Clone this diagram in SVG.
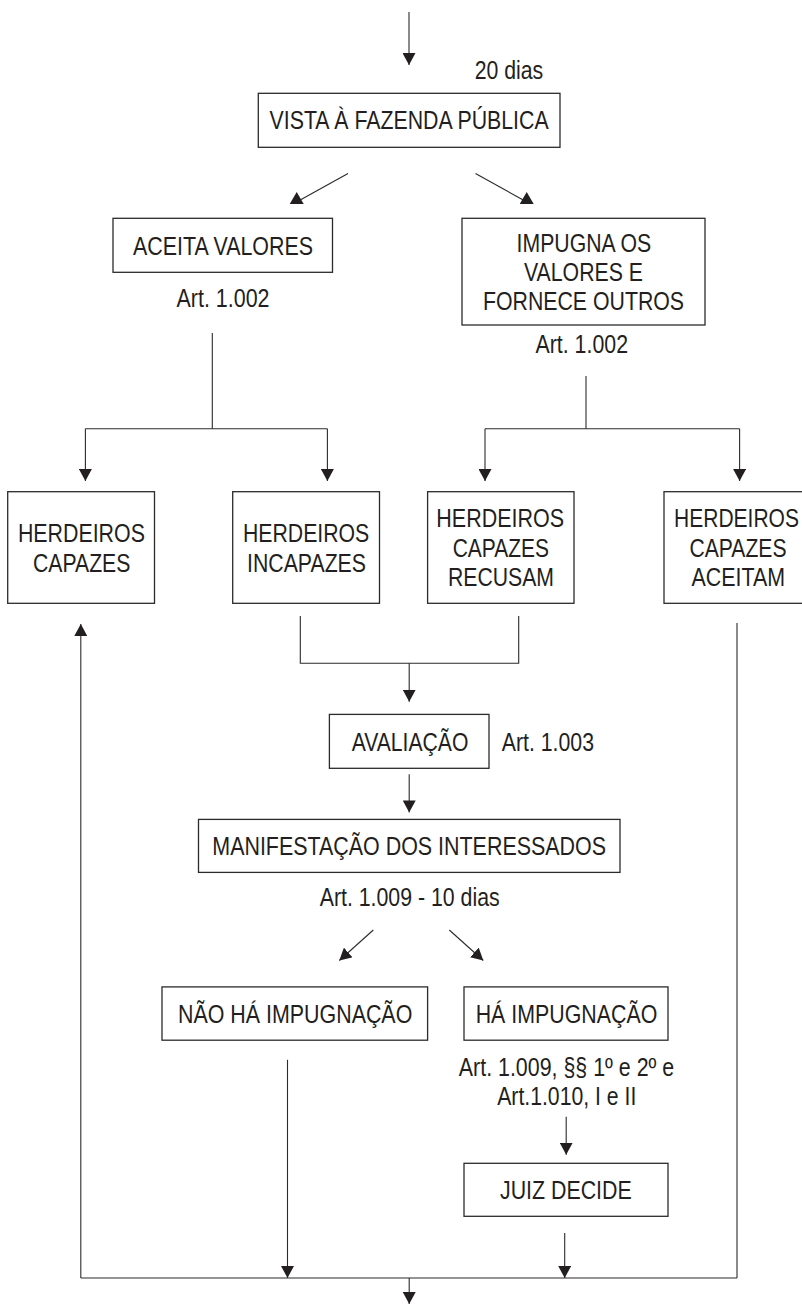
<svg xmlns="http://www.w3.org/2000/svg" width="802" height="1305" viewBox="0 0 802 1305">
<style>
.box{fill:#fff;stroke:#2b2b2b;stroke-width:1.3}
.ln{fill:none;stroke:#2b2b2b;stroke-width:1.1}
.ar{marker-end:url(#arr)}
text{font-family:"Liberation Sans",Arial,Helvetica,sans-serif;font-size:25px;fill:#231f20}
</style>
<defs>
<marker id="arr" viewBox="0 0 12 13" refX="12" refY="6.5" markerWidth="12" markerHeight="13" markerUnits="userSpaceOnUse" orient="auto">
<path d="M0,0 L12,6.5 L0,13 z" fill="#231f20"/>
</marker>
<marker id="triL" viewBox="0 0 14 12" refX="8.7" refY="9" markerWidth="14" markerHeight="12" markerUnits="userSpaceOnUse" orient="0">
<path d="M7,0 L14,12 L0,12 z" fill="#231f20"/>
</marker>
<marker id="triR" viewBox="0 0 14 12" refX="5.3" refY="9" markerWidth="14" markerHeight="12" markerUnits="userSpaceOnUse" orient="0">
<path d="M7,0 L14,12 L0,12 z" fill="#231f20"/>
</marker>
</defs>
<rect width="802" height="1305" fill="#fff"/>

<g id="connectors">
<line class="ln ar" x1="409" y1="12" x2="409" y2="65"/>
<line class="ln" x1="348" y1="173.5" x2="298.4" y2="201" marker-end="url(#triL)"/>
<line class="ln" x1="475.5" y1="173.5" x2="525" y2="201" marker-end="url(#triR)"/>
<line class="ln" x1="212.3" y1="333" x2="212.3" y2="428.7"/>
<line class="ln" x1="85.4" y1="428.7" x2="327.4" y2="428.7"/>
<line class="ln ar" x1="85.4" y1="428.7" x2="85.4" y2="481"/>
<line class="ln ar" x1="327.4" y1="428.7" x2="327.4" y2="481"/>
<line class="ln" x1="586" y1="376" x2="586" y2="428.7"/>
<line class="ln" x1="485" y1="428.7" x2="739.6" y2="428.7"/>
<line class="ln ar" x1="485" y1="428.7" x2="485" y2="481"/>
<line class="ln ar" x1="739.6" y1="428.7" x2="739.6" y2="481"/>
<polyline class="ln" points="300.3,616 300.3,663.3 518.7,663.3 518.7,616"/>
<line class="ln ar" x1="409.2" y1="663.3" x2="409.2" y2="701.8"/>
<line class="ln ar" x1="409.2" y1="774.3" x2="409.2" y2="812.4"/>
<line class="ln ar" x1="373.3" y1="930" x2="339.3" y2="960.5"/>
<line class="ln ar" x1="449.3" y1="930" x2="483.3" y2="960.5"/>
<line class="ln ar" x1="566.2" y1="1116.7" x2="566.2" y2="1154.7"/>
<line class="ln ar" x1="287.5" y1="1059.8" x2="287.5" y2="1278"/>
<line class="ln ar" x1="564.7" y1="1233" x2="564.7" y2="1278"/>
<line class="ln" x1="80.8" y1="1278" x2="737" y2="1278"/>
<line class="ln ar" x1="80.8" y1="1278" x2="80.8" y2="624"/>
<line class="ln" x1="737" y1="623" x2="737" y2="1278"/>
<line class="ln ar" x1="409.2" y1="1278" x2="409.2" y2="1304"/>
</g>

<g id="label-20dias"><text x="474.7" y="79.3" textLength="68.5" lengthAdjust="spacingAndGlyphs">20 dias</text></g>

<g id="vista">
<rect class="box" x="258.3" y="93.3" width="301.7" height="54"/>
<text x="269.6" y="129.3" textLength="279" lengthAdjust="spacingAndGlyphs">VISTA À FAZENDA PÚBLICA</text>
</g>

<g id="aceita">
<rect class="box" x="113" y="218.3" width="219.5" height="54"/>
<text x="133" y="255" textLength="180" lengthAdjust="spacingAndGlyphs">ACEITA VALORES</text>
</g>
<g id="label-art1002-l"><text x="176.5" y="306.7" textLength="93" lengthAdjust="spacingAndGlyphs">Art. 1.002</text></g>

<g id="impugna">
<rect class="box" x="462" y="218.3" width="243" height="106.7"/>
<text x="516.6" y="251.7" textLength="134.5" lengthAdjust="spacingAndGlyphs">IMPUGNA OS</text>
<text x="524" y="281" textLength="119" lengthAdjust="spacingAndGlyphs">VALORES E</text>
<text x="483" y="310" textLength="201" lengthAdjust="spacingAndGlyphs">FORNECE OUTROS</text>
</g>
<g id="label-art1002-r"><text x="535.5" y="353.3" textLength="92.5" lengthAdjust="spacingAndGlyphs">Art. 1.002</text></g>

<g id="herd-capazes">
<rect class="box" x="7.7" y="491.7" width="146.8" height="111.6"/>
<text x="17.9" y="542" textLength="127" lengthAdjust="spacingAndGlyphs">HERDEIROS</text>
<text x="33" y="571.7" textLength="97.4" lengthAdjust="spacingAndGlyphs">CAPAZES</text>
</g>
<g id="herd-incapazes">
<rect class="box" x="232.7" y="491.7" width="146.8" height="111.6"/>
<text x="243" y="542" textLength="126.3" lengthAdjust="spacingAndGlyphs">HERDEIROS</text>
<text x="247" y="571.7" textLength="119" lengthAdjust="spacingAndGlyphs">INCAPAZES</text>
</g>
<g id="herd-recusam">
<rect class="box" x="427.6" y="491.7" width="146.4" height="111.6"/>
<text x="436.3" y="526.7" textLength="127.7" lengthAdjust="spacingAndGlyphs">HERDEIROS</text>
<text x="452.7" y="556.7" textLength="96.3" lengthAdjust="spacingAndGlyphs">CAPAZES</text>
<text x="448" y="586" textLength="106" lengthAdjust="spacingAndGlyphs">RECUSAM</text>
</g>
<g id="herd-aceitam">
<rect class="box" x="664" y="491.7" width="150" height="111.6"/>
<text x="674" y="526.7" textLength="125" lengthAdjust="spacingAndGlyphs">HERDEIROS</text>
<text x="689.5" y="556.7" textLength="97" lengthAdjust="spacingAndGlyphs">CAPAZES</text>
<text x="691.5" y="586" textLength="93.5" lengthAdjust="spacingAndGlyphs">ACEITAM</text>
</g>

<g id="avaliacao">
<rect class="box" x="329.4" y="714.4" width="159.6" height="53.9"/>
<text x="351.7" y="751" textLength="116.7" lengthAdjust="spacingAndGlyphs">AVALIAÇÃO</text>
</g>
<g id="label-art1003"><text x="501.7" y="751" textLength="92.3" lengthAdjust="spacingAndGlyphs">Art. 1.003</text></g>

<g id="manifestacao">
<rect class="box" x="198.5" y="819.4" width="421.5" height="53"/>
<text x="212.3" y="854.7" textLength="393.7" lengthAdjust="spacingAndGlyphs">MANIFESTAÇÃO DOS INTERESSADOS</text>
</g>
<g id="label-art1009"><text x="319.7" y="905.7" textLength="180" lengthAdjust="spacingAndGlyphs">Art. 1.009 - 10 dias</text></g>

<g id="nao-ha">
<rect class="box" x="162" y="986.9" width="265.6" height="53.3"/>
<text x="178" y="1023.3" textLength="234.3" lengthAdjust="spacingAndGlyphs">NÃO HÁ IMPUGNAÇÃO</text>
</g>
<g id="ha">
<rect class="box" x="464" y="986.9" width="204" height="53.3"/>
<text x="475.7" y="1023.3" textLength="181.6" lengthAdjust="spacingAndGlyphs">HÁ IMPUGNAÇÃO</text>
</g>
<g id="label-art1009-1010">
<text x="458.8" y="1076.3" textLength="215.4" lengthAdjust="spacingAndGlyphs">Art. 1.009, §§ 1º e 2º e</text>
<text x="497.2" y="1104.9" textLength="139.1" lengthAdjust="spacingAndGlyphs">Art.1.010, I e II</text>
</g>
<g id="juiz">
<rect class="box" x="464" y="1163.3" width="204" height="53"/>
<text x="500" y="1198.6" textLength="131.7" lengthAdjust="spacingAndGlyphs">JUIZ DECIDE</text>
</g>
</svg>
